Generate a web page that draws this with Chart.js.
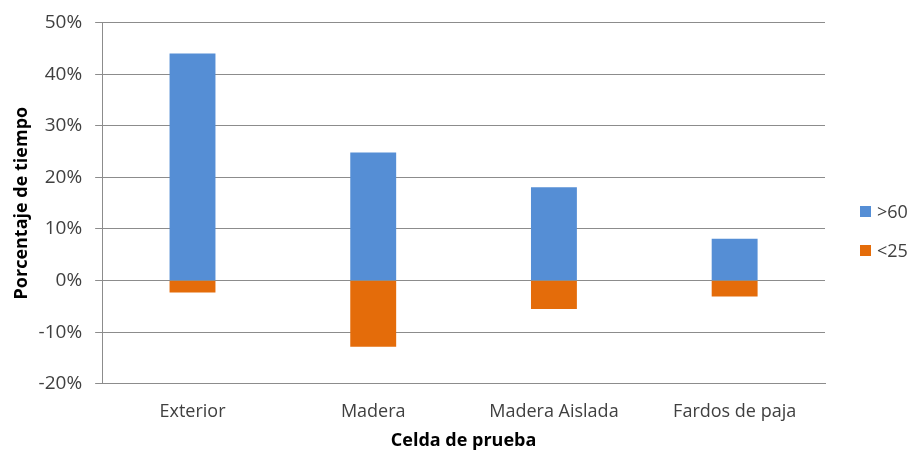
<!DOCTYPE html>
<html lang="es">
<head>
<meta charset="UTF-8">
<title>Porcentaje de tiempo por celda</title>
<script src="https://cdn.jsdelivr.net/npm/chart.js"></script>
<style>
  html, body { margin: 0; padding: 0; background: #fff; }
  #wrap { width: 911px; height: 455px; position: relative; }
  #leyenda {
    position: absolute; left: 860px; top: 200px;
    display: flex; flex-direction: column; gap: 17px;
    font-family: 'Open Sans', sans-serif; font-size: 18px; color: #404040;
  }
  #leyenda .item { display: flex; align-items: center; height: 22px; }
  #leyenda .caja { width: 11px; height: 11px; margin-right: 6px; }
</style>
</head>
<body>
<div id="wrap">
  <canvas id="chart"></canvas>
  <div id="leyenda"></div>
</div>
<script>
// Celdas de prueba y porcentajes de tiempo (%)
const celdas = ['Exterior', 'Madera', 'Madera Aislada', 'Fardos de paja'];
const sobre60 = [44.0, 24.8, 18.1, 8.1];
const bajo25 = [-2.3, -12.8, -5.5, -3.1];
const yTicks = [50, 40, 30, 20, 10, 0, -10, -20];

const gris = '#8c8c8c';
const texto = '#404040';
const fuente = 'Open Sans';

const chart = new Chart(document.getElementById('chart'), {
  type: 'bar',
  data: {
    labels: celdas,
    datasets: [
      { label: '>60', data: sobre60, backgroundColor: '#558ed5' },
      { label: '<25', data: bajo25, backgroundColor: '#e46c0a' }
    ]
  },
  options: {
    responsive: true,
    maintainAspectRatio: false,
    animation: false,
    layout: { padding: { top: 14, right: 86, bottom: 3, left: 11 } },
    datasets: { bar: { barPercentage: 0.254, categoryPercentage: 1 } },
    plugins: {
      legend: { display: false },
      tooltip: { enabled: false }
    },
    scales: {
      x: {
        stacked: true,
        grid: { display: false, drawTicks: false },
        border: { color: gris },
        ticks: { color: texto, padding: 17, font: { family: fuente, size: 18 } },
        title: {
          display: true,
          text: 'Celda de prueba',
          color: '#000',
          // el padding de las etiquetas se cuenta dos veces al medir el eje
          padding: { top: -9, bottom: 0 },
          font: { family: fuente, size: 18, weight: 'bold' }
        }
      },
      y: {
        stacked: true,
        min: -20,
        max: 50,
        afterBuildTicks: axis => { axis.ticks = yTicks.map(v => ({ value: v })); },
        grid: { color: gris, tickLength: 7 },
        border: { color: gris },
        ticks: {
          color: texto,
          padding: 13,
          font: { family: fuente, size: 19, lineHeight: 1 },
          callback: v => v + '%'
        },
        title: {
          display: true,
          text: 'Porcentaje de tiempo',
          color: '#000',
          padding: { top: 0, bottom: -7 },
          font: { family: fuente, size: 18, weight: 'bold' }
        }
      }
    }
  }
});

// Leyenda en HTML a partir de las series
const leyenda = document.getElementById('leyenda');
chart.data.datasets.forEach(ds => {
  const item = document.createElement('div');
  item.className = 'item';
  const caja = document.createElement('span');
  caja.className = 'caja';
  caja.style.background = ds.backgroundColor;
  const etiqueta = document.createElement('span');
  etiqueta.textContent = ds.label;
  item.append(caja, etiqueta);
  leyenda.appendChild(item);
});
</script>
</body>
</html>
